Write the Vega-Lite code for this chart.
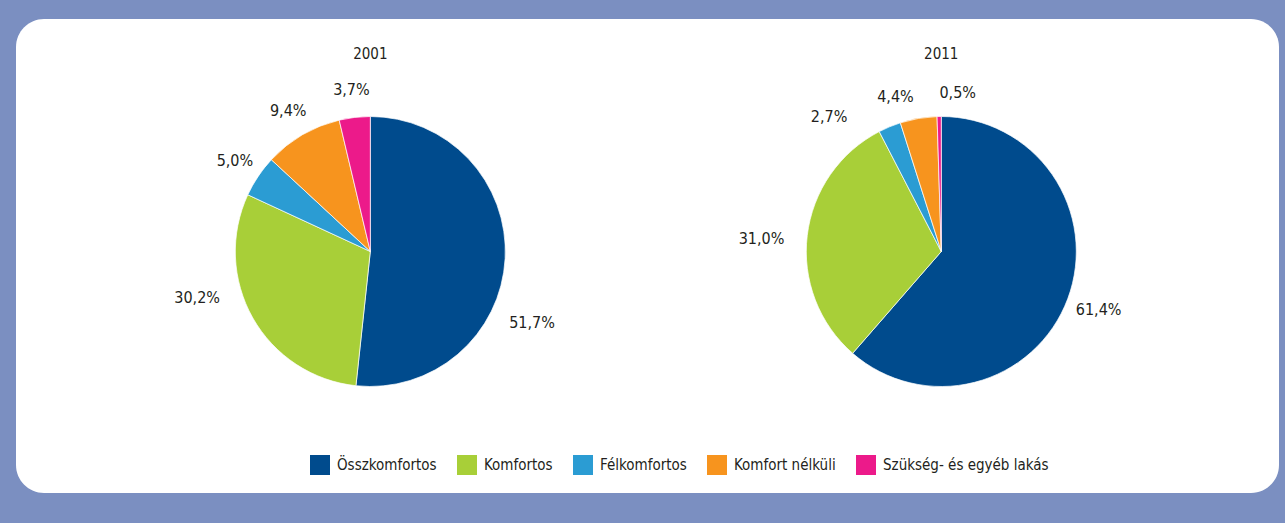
{
  "$schema": "https://vega.github.io/schema/vega-lite/v6.json",
  "width": 1263,
  "height": 474,
  "padding": {"left": 16, "top": 19, "right": 6, "bottom": 30},
  "autosize": {"type": "none"},
  "background": "#7b8fc1",
  "data": {
    "values": [
      {"year": 2001, "cat": "Összkomfortos", "k": 1, "share": 0.517},
      {"year": 2001, "cat": "Komfortos", "k": 2, "share": 0.302},
      {"year": 2001, "cat": "Félkomfortos", "k": 3, "share": 0.050},
      {"year": 2001, "cat": "Komfort nélküli", "k": 4, "share": 0.094},
      {"year": 2001, "cat": "Szükség- és egyéb lakás", "k": 5, "share": 0.037},
      {"year": 2011, "cat": "Összkomfortos", "k": 1, "share": 0.614},
      {"year": 2011, "cat": "Komfortos", "k": 2, "share": 0.310},
      {"year": 2011, "cat": "Félkomfortos", "k": 3, "share": 0.027},
      {"year": 2011, "cat": "Komfort nélküli", "k": 4, "share": 0.044},
      {"year": 2011, "cat": "Szükség- és egyéb lakás", "k": 5, "share": 0.005}
    ]
  },
  "encoding": {
    "x": {"field": "year", "type": "nominal", "scale": {"type": "point", "padding": 0.606, "align": 0.512}, "axis": null},
    "y": {"datum": "pie", "type": "nominal", "scale": {"type": "point", "align": 0.4905}, "axis": null}
  },
  "layer": [
    {
      "transform": [{"filter": "datum.year == 2001"}],
      "mark": {"type": "arc", "outerRadius": 135, "stroke": "#ffffff", "strokeWidth": 0.7},
      "encoding": {
        "theta": {"field": "share", "type": "quantitative", "stack": true, "scale": {"domain": [0, 1]}},
        "order": {"field": "k", "type": "quantitative"},
        "color": {
          "field": "cat", "type": "nominal",
          "scale": {
            "domain": ["Összkomfortos", "Komfortos", "Félkomfortos", "Komfort nélküli", "Szükség- és egyéb lakás"],
            "range": ["#004b8d", "#a8cf38", "#2b9cd3", "#f7941e", "#ec1a8a"]
          },
          "legend": {"title": null, "orient": "none", "direction": "horizontal", "legendX": 294, "legendY": 436}
        }
      }
    },
    {
      "transform": [{"filter": "datum.year == 2011"}],
      "mark": {"type": "arc", "outerRadius": 135, "stroke": "#ffffff", "strokeWidth": 0.7},
      "encoding": {
        "theta": {"field": "share", "type": "quantitative", "stack": true},
        "order": {"field": "k", "type": "quantitative"},
        "color": {"field": "cat", "type": "nominal"}
      }
    },
    {
      "transform": [{"filter": "datum.year == 2001"}],
      "mark": {"type": "text", "radius": 163, "fontSize": 16, "font": "DejaVu Sans Condensed", "fill": "#231f20"},
      "encoding": {
        "theta": {"field": "share", "type": "quantitative", "stack": true},
        "order": {"field": "k", "type": "quantitative"},
        "text": {"condition": {"test": "datum.k >= 3", "field": "share", "type": "quantitative", "format": ".1%"}, "value": ""}
      }
    },
    {
      "transform": [{"filter": "datum.year == 2001"}],
      "mark": {"type": "text", "radius": 168, "dx": -6, "dy": 63, "fontSize": 16, "font": "DejaVu Sans Condensed", "fill": "#231f20"},
      "encoding": {
        "theta": {"field": "share", "type": "quantitative", "stack": true},
        "order": {"field": "k", "type": "quantitative"},
        "text": {"condition": {"test": "datum.k == 1", "field": "share", "type": "quantitative", "format": ".1%"}, "value": ""}
      }
    },
    {
      "transform": [{"filter": "datum.year == 2001"}],
      "mark": {"type": "text", "radius": 168, "dx": -27, "dy": -36, "fontSize": 16, "font": "DejaVu Sans Condensed", "fill": "#231f20"},
      "encoding": {
        "theta": {"field": "share", "type": "quantitative", "stack": true},
        "order": {"field": "k", "type": "quantitative"},
        "text": {"condition": {"test": "datum.k == 2", "field": "share", "type": "quantitative", "format": ".1%"}, "value": ""}
      }
    },
    {
      "transform": [{"filter": "datum.year == 2011"}],
      "mark": {"type": "text", "radius": 168, "fontSize": 16, "font": "DejaVu Sans Condensed", "fill": "#231f20"},
      "encoding": {
        "theta": {"field": "share", "type": "quantitative", "stack": true},
        "order": {"field": "k", "type": "quantitative"},
        "text": {"condition": {"test": "datum.k == 1", "field": "share", "type": "quantitative", "format": ".1%"}, "value": ""}
      }
    },
    {
      "transform": [{"filter": "datum.year == 2011"}],
      "mark": {"type": "text", "radius": 168, "dx": -13, "dy": 8, "fontSize": 16, "font": "DejaVu Sans Condensed", "fill": "#231f20"},
      "encoding": {
        "theta": {"field": "share", "type": "quantitative", "stack": true},
        "order": {"field": "k", "type": "quantitative"},
        "text": {"condition": {"test": "datum.k == 2", "field": "share", "type": "quantitative", "format": ".1%"}, "value": ""}
      }
    },
    {
      "transform": [{"filter": "datum.year == 2011"}],
      "mark": {"type": "text", "radius": 165, "dx": -49, "dy": 18, "fontSize": 16, "font": "DejaVu Sans Condensed", "fill": "#231f20"},
      "encoding": {
        "theta": {"field": "share", "type": "quantitative", "stack": true},
        "order": {"field": "k", "type": "quantitative"},
        "text": {"condition": {"test": "datum.k == 3", "field": "share", "type": "quantitative", "format": ".1%"}, "value": ""}
      }
    },
    {
      "transform": [{"filter": "datum.year == 2011"}],
      "mark": {"type": "text", "radius": 165, "dx": -18, "dy": 8, "fontSize": 16, "font": "DejaVu Sans Condensed", "fill": "#231f20"},
      "encoding": {
        "theta": {"field": "share", "type": "quantitative", "stack": true},
        "order": {"field": "k", "type": "quantitative"},
        "text": {"condition": {"test": "datum.k == 4", "field": "share", "type": "quantitative", "format": ".1%"}, "value": ""}
      }
    },
    {
      "transform": [{"filter": "datum.year == 2011"}],
      "mark": {"type": "text", "radius": 165, "dx": 19, "dy": 6, "fontSize": 16, "font": "DejaVu Sans Condensed", "fill": "#231f20"},
      "encoding": {
        "theta": {"field": "share", "type": "quantitative", "stack": true},
        "order": {"field": "k", "type": "quantitative"},
        "text": {"condition": {"test": "datum.k == 5", "field": "share", "type": "quantitative", "format": ".1%"}, "value": ""}
      }
    },
    {
      "transform": [{"filter": "datum.k == 1"}],
      "mark": {"type": "text", "radius": 197, "fontSize": 15, "font": "DejaVu Sans Condensed", "fill": "#231f20"},
      "encoding": {
        "theta": {"datum": 0, "type": "quantitative"},
        "text": {"field": "year", "type": "nominal"}
      }
    }
  ],
  "config": {
    "locale": {"number": {"decimal": ",", "thousands": " ", "grouping": [3], "currency": ["", " Ft"]}},
    "view": {"fill": "#ffffff", "stroke": null, "cornerRadius": 28},
    "legend": {
      "symbolType": "square",
      "symbolSize": 400,
      "symbolStrokeWidth": 0,
      "labelFontSize": 15,
      "labelFont": "DejaVu Sans Condensed",
      "labelColor": "#231f20",
      "labelOffset": 7,
      "columnPadding": 20,
      "labelLimit": 300
    }
  }
}
